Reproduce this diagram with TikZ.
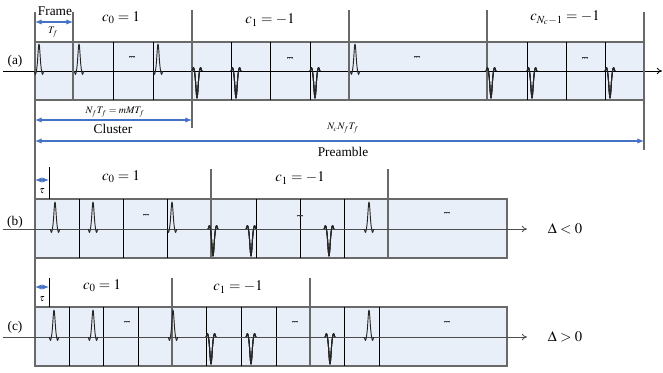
\documentclass[tikz,border=0pt]{standalone}
\usepackage{mathptmx}
\usepackage{fontspec}
\setmainfont{Liberation Serif}
\usetikzlibrary{arrows.meta}

\definecolor{slotfill}{RGB}{233,239,248}
\definecolor{spanblue}{RGB}{68,114,196}
\definecolor{rimgray}{RGB}{105,105,105}

% one pulse: centre x, axis y, sign (+1 up, -1 down)
\newcommand{\pulseat}[3]{%
  \draw[pulse] plot[domain=-5:5, samples=29]
    ({#1+\x}, {#2-(#3)*(27*exp(-((\x/1.5)^2)) - 3.5*exp(-(((abs(\x)-3.5)/0.9)^2)))});}

\begin{document}
\begin{tikzpicture}[
    x=0.75pt, y=-0.75pt,
    slot/.style={draw=rimgray, line width=0.9pt, fill=slotfill},
    divider/.style={draw=black, line width=0.5pt},
    bound/.style={draw=rimgray, line width=0.8pt},
    axis/.style={-{To[length=4pt,width=5pt]}, line width=0.6pt},
    span/.style={{Latex[length=5pt,width=4pt]}-{Latex[length=5pt,width=4pt]}, draw=spanblue, fill=spanblue, line width=0.8pt},
    pulse/.style={draw=black!85, line width=0.7pt, line join=round},
    tag/.style={font=\fontsize{10}{12}\selectfont, inner sep=0pt},
    code/.style={font=\fontsize{11}{13}\selectfont, inner sep=0pt},
    small/.style={font=\fontsize{7.5}{9}\selectfont, inner sep=0pt},
    dots/.style={font=\fontsize{6.5}{7}\selectfont, inner sep=0pt, text=black!75}
]
\useasboundingbox (0,0) rectangle (663,373);

% Row (a)
\draw[slot] (35,42) rectangle (644,100);
\foreach \xd in {73,113,153,192,231,270,310,349,487,527,566,605}
  \draw[divider] (\xd,42) -- (\xd,100);
\coordinate (a-in) at (3,71);
\coordinate (a-out) at (662,71);
\draw[axis] (a-in) -- (a-out);
\draw[bound] (73,12) -- (73,100);
\draw[bound] (192,10) -- (192,128);
\draw[bound] (349,10) -- (349,100);
\draw[bound] (487,10) -- (487,100);
\draw[bound] (644,12) -- (644,150);
\draw[bound] (35,12) -- (35,366);
\foreach \xp in {39,79,158,355} \pulseat{\xp}{71}{1}
\foreach \xp in {197,236,315,491,532,610} \pulseat{\xp}{71}{-1}
\foreach \xp/\yp in {132/57,290/58,417/57,585/58}
  \node[dots] at (\xp,\yp) {...};

\node[tag] (taga) at (15,61) {(a)};
\node[tag] (frame) at (55,11) {Frame};
\coordinate (fr-l) at (35,22);
\coordinate (fr-r) at (73,22);
\draw[span] (fr-l) -- (fr-r);
\node[small] (tf) at (53,32) {$T_f$};
\node[code] (ca0) at (121,18) {$c_0=1$};
\node[code] (ca1) at (270,20) {$c_1=-1$};
\node[code] (can) at (565,18) {$c_{N_c-1}=-1$};

\node[small] (clen) at (115,112) {$N_fT_f=mMT_f$};
\coordinate (cl-l) at (35,120);
\coordinate (cl-r) at (192,120);
\draw[span] (cl-l) -- (cl-r);
\node[tag] (cluster) at (113,129) {Cluster};
\node[small] (plen) at (343,128) {$N_cN_fT_f$};
\coordinate (pr-l) at (35,141);
\coordinate (pr-r) at (644,141);
\draw[span] (pr-l) -- (pr-r);
\node[tag] (preamble) at (343,152) {Preamble};

% Row (b)
\draw[slot] (35,199) rectangle (507,258);
\foreach \xd in {79,123,167,211,256,300,344,388}
  \draw[divider] (\xd,199) -- (\xd,258);
\draw[bound] (211,169) -- (211,258);
\draw[bound] (388,169) -- (388,258);
\draw[divider] (49,167) -- (49,199);
\coordinate (b-in) at (3,229);
\coordinate (b-out) at (527,229);
\draw[axis, draw=black!70] (b-in) -- (b-out);
\foreach \xp in {55,93,172,369} \pulseat{\xp}{229}{1}
\foreach \xp in {213,251,329} \pulseat{\xp}{229}{-1}
\foreach \xp/\yp in {146/215,300/216,447/213}
  \node[dots] at (\xp,\yp) {...};

\node[tag] (tagb) at (15,222) {(b)};
\coordinate (tb-l) at (35,180);
\coordinate (tb-r) at (49,180);
\draw[span] (tb-l) -- (tb-r);
\node[small] (taub) at (42,191) {$\tau$};
\node[code] (cb0) at (121,177) {$c_0=1$};
\node[code] (cb1) at (300,178) {$c_1=-1$};
\node[code] (deltab) at (565,229) {$\Delta<0$};

% Row (c)
\draw[slot] (35,307) rectangle (507,366);
\foreach \xd in {69,103,138,172,206,241,276,310,344,379}
  \draw[divider] (\xd,307) -- (\xd,366);
\draw[bound] (172,278) -- (172,366);
\draw[bound] (310,278) -- (310,366);
\draw[divider] (49,278) -- (49,307);
\coordinate (c-in) at (3,337);
\coordinate (c-out) at (527,337);
\draw[axis, draw=black!70] (c-in) -- (c-out);
\foreach \xp in {54,93,173,369} \pulseat{\xp}{337}{1}
\foreach \xp in {211,251,330} \pulseat{\xp}{337}{-1}
\foreach \xp/\yp in {127/322,295/322,447/322}
  \node[dots] at (\xp,\yp) {...};

\node[tag] (tagc) at (15,327) {(c)};
\coordinate (tc-l) at (35,287);
\coordinate (tc-r) at (49,287);
\draw[span] (tc-l) -- (tc-r);
\node[small] (tauc) at (42,299) {$\tau$};
\node[code] (cc0) at (102,286) {$c_0=1$};
\node[code] (cc1) at (238,287) {$c_1=-1$};
\node[code] (deltac) at (565,337) {$\Delta>0$};
\end{tikzpicture}
\end{document}
